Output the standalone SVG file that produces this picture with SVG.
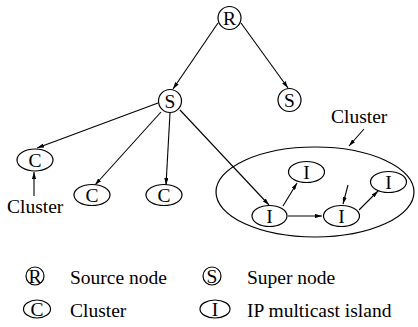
<svg xmlns="http://www.w3.org/2000/svg" width="418" height="327" viewBox="0 0 418 327">
<defs>
<marker id="ah" viewBox="0 0 10 6" refX="10" refY="3" markerWidth="7" markerHeight="4.2" markerUnits="userSpaceOnUse" orient="auto">
<path d="M0,0 L10,3 L0,6 z" fill="#000"/>
</marker>
</defs>
<style>
.n{fill:#fff;stroke:#000;stroke-width:1.2}
.big{fill:none;stroke:#000;stroke-width:1.2}
.e{stroke:#000;stroke-width:1.1;fill:none;marker-end:url(#ah)}
text{font-family:'Liberation Serif','Times New Roman',Tinos,'DejaVu Serif',serif;font-size:19.5px;fill:#000}
.c{text-anchor:middle}
</style>
<rect width="418" height="327" fill="#fff"/>
<g id="cluster-region"><ellipse class="big" cx="315" cy="192" rx="99" ry="45"/></g>
<g id="connectors">
<line class="e" x1="218" y1="23" x2="173" y2="89"/>
<line class="e" x1="241" y1="23" x2="288" y2="88"/>
<line class="e" x1="158" y1="103" x2="37" y2="148"/>
<line class="e" x1="161" y1="112" x2="95" y2="185"/>
<line class="e" x1="170" y1="113" x2="166" y2="185"/>
<line class="e" x1="180" y1="110" x2="269" y2="205"/>
<line class="e" x1="34" y1="196" x2="34" y2="172"/>
<line class="e" x1="364" y1="129" x2="349" y2="146"/>
<line class="e" x1="283" y1="206" x2="297" y2="183"/>
<line class="e" x1="288" y1="216" x2="322" y2="216"/>
<line class="e" x1="359" y1="210" x2="378" y2="191"/>
<line class="e" x1="348" y1="185" x2="343" y2="204"/>
</g>
<g font-family="Liberation Serif, Times New Roman, DejaVu Serif, serif">
<g id="R"><circle class="n" cx="229.5" cy="18" r="11.5"/><text class="c" x="229.5" y="24.5">R</text></g>
<g id="S1"><circle class="n" cx="170" cy="101" r="11.5"/><text class="c" x="170" y="107.5">S</text></g>
<g id="S2"><circle class="n" cx="289.5" cy="100" r="11.5"/><text class="c" x="289.5" y="106.5">S</text></g>
<g id="C1"><ellipse class="n" cx="35" cy="160" rx="18" ry="11"/><text class="c" x="35" y="166.5">C</text></g>
<g id="C2"><ellipse class="n" cx="92" cy="195" rx="18" ry="10.5"/><text class="c" x="92" y="201.5">C</text></g>
<g id="C3"><ellipse class="n" cx="164" cy="195" rx="18" ry="10.5"/><text class="c" x="164" y="201.5">C</text></g>
<g id="I1"><ellipse class="n" cx="269.5" cy="216" rx="17.5" ry="10.5"/><text class="c" x="269.5" y="222.5">I</text></g>
<g id="I2"><ellipse class="n" cx="306.5" cy="172" rx="18" ry="10.5"/><text class="c" x="306.5" y="178.5">I</text></g>
<g id="I3"><ellipse class="n" cx="341.5" cy="216" rx="18" ry="10.5"/><text class="c" x="341.5" y="222.5">I</text></g>
<g id="I4"><ellipse class="n" cx="388.5" cy="182" rx="18" ry="10.5"/><text class="c" x="388.5" y="188.5">I</text></g>
<g id="label-cluster-left"><text x="7" y="213">Cluster</text></g>
<g id="label-cluster-right"><text x="331" y="123">Cluster</text></g>
<g id="legend">
<circle class="n" cx="35" cy="276" r="9"/><text class="c" x="35" y="282.5">R</text>
<text x="70" y="284">Source node</text>
<circle class="n" cx="212" cy="276" r="9"/><text class="c" x="212" y="282.5">S</text>
<text x="247" y="284">Super node</text>
<ellipse class="n" cx="37" cy="309" rx="13.5" ry="9"/><text class="c" x="37" y="315.5">C</text>
<text x="70" y="317">Cluster</text>
<ellipse class="n" cx="215" cy="309" rx="15" ry="9"/><text class="c" x="215" y="315.5">I</text>
<text x="247" y="317">IP multicast island</text>
</g>
</g>
</svg>
